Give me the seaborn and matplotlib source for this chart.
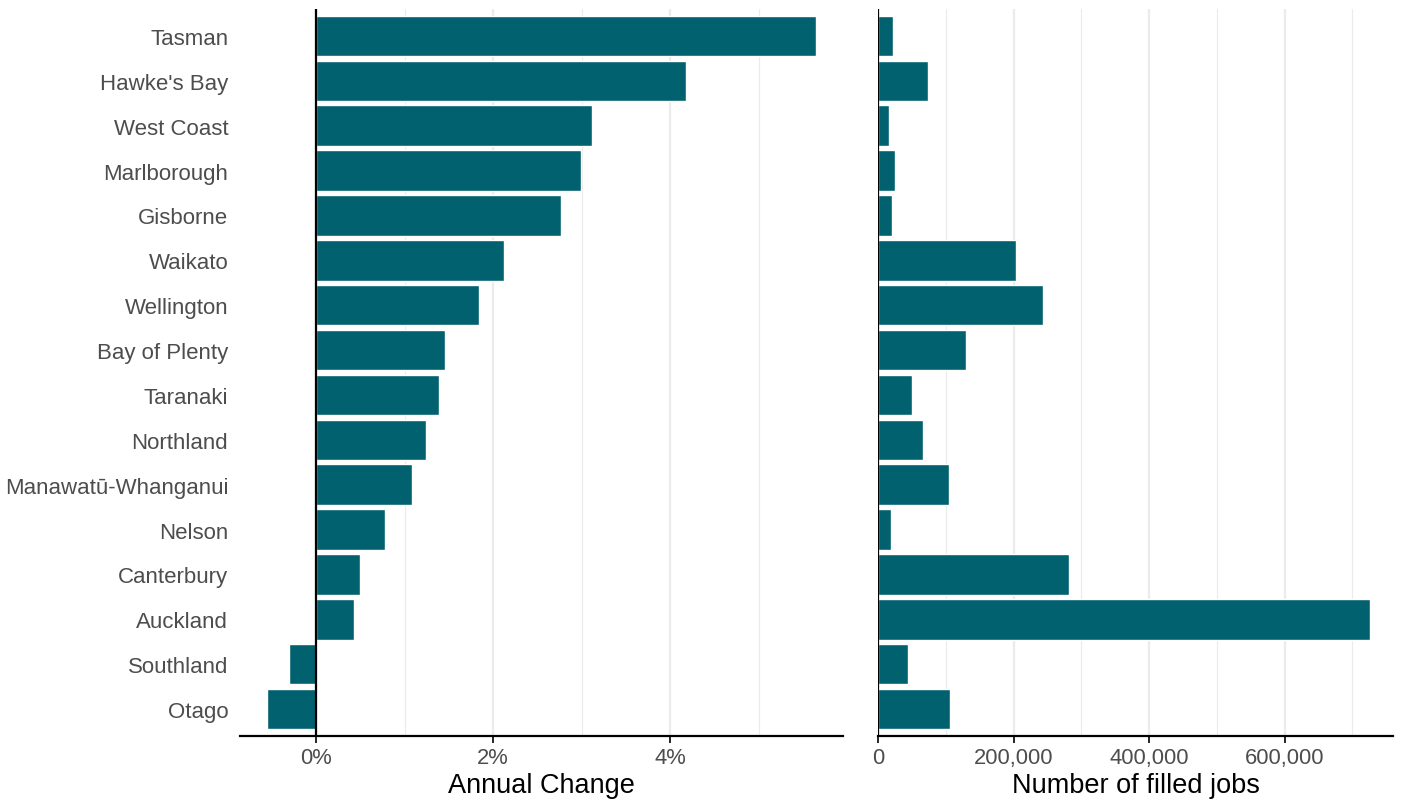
"""Regional filled jobs: annual change and level, side by side."""

import pandas as pd
import matplotlib
matplotlib.use("Agg")
import matplotlib.pyplot as plt
from matplotlib.ticker import FuncFormatter, MultipleLocator
import seaborn as sns

regions = [
    "Tasman", "Hawke's Bay", "West Coast", "Marlborough", "Gisborne",
    "Waikato", "Wellington", "Bay of Plenty", "Taranaki", "Northland",
    "Manawatū-Whanganui", "Nelson", "Canterbury", "Auckland",
    "Southland", "Otago",
]
annual_change = [
    5.65, 4.18, 3.12, 2.99, 2.76, 2.12, 1.84, 1.45, 1.39, 1.24,
    1.08, 0.78, 0.50, 0.43, -0.31, -0.55,
]
filled_jobs = [
    22000, 74000, 16000, 25000, 21000, 204000, 243500, 130000, 50000, 66000,
    105000, 19000, 282000, 726000, 44000, 106000,
]

BAR   = "#02616f"
GRID  = "#ebebeb"
TICKC = "#4d4d4d"

df = pd.DataFrame({"region": regions, "change": annual_change, "jobs": filled_jobs})

sns.set_theme(style="white")
plt.rcParams["font.family"] = ["Liberation Sans", "DejaVu Sans"]

fig = plt.figure(figsize=(14.07, 8.03), dpi=100)
ax1 = fig.add_axes([240 / 1407, 1 - 737 / 803, 603 / 1407, 727 / 803])
ax2 = fig.add_axes([878 / 1407, 1 - 737 / 803, 515 / 1407, 727 / 803])


def style_axis(ax, major, minor):
    for s in ["top", "right", "left"]:
        ax.spines[s].set_visible(False)
    ax.spines["bottom"].set_color("black")
    ax.spines["bottom"].set_linewidth(1.6)
    ax.xaxis.set_major_locator(MultipleLocator(major))
    ax.xaxis.set_minor_locator(MultipleLocator(minor))
    ax.grid(axis="x", which="major", color=GRID, lw=1.6, zorder=0)
    ax.grid(axis="x", which="minor", color=GRID, lw=0.8, zorder=0)
    ax.grid(axis="y", visible=False)
    ax.set_axisbelow(True)
    ax.tick_params(axis="x", which="major", length=5, width=1.2, color="black",
                   labelsize=15.8, labelcolor=TICKC, pad=3, bottom=True)
    ax.tick_params(axis="x", which="minor", length=0)
    ax.set_ylim(15.6, -0.6)


sns.barplot(data=df, y="region", x="change", color=BAR, width=0.9,
            saturation=1, ax=ax1, zorder=2)
ax1.axvline(0, color="black", lw=1.6, zorder=3)
ax1.set_xlim(-0.86, 5.95)
style_axis(ax1, 2, 1)
ax1.xaxis.set_major_formatter(FuncFormatter(lambda v, p: f"{v:.0f}%"))
ax1.tick_params(axis="y", length=0, labelsize=16, labelcolor=TICKC, pad=8.5)
ax1.set_ylabel("")
ax1.set_xlabel("Annual Change", fontsize=19.5, color="black", labelpad=3)

sns.barplot(data=df, y="region", x="jobs", color=BAR, width=0.9,
            saturation=1, ax=ax2, zorder=2)
ax2.axvline(0, color="black", lw=1.6, zorder=3)
ax2.set_xlim(0, 760000)
style_axis(ax2, 200000, 100000)
ax2.xaxis.set_major_formatter(FuncFormatter(lambda v, p: f"{v:,.0f}"))
ax2.set_yticks([])
ax2.set_ylabel("")
ax2.set_xlabel("Number of filled jobs", fontsize=19.5, color="black", labelpad=3)

fig.savefig("out.png", dpi=100)
